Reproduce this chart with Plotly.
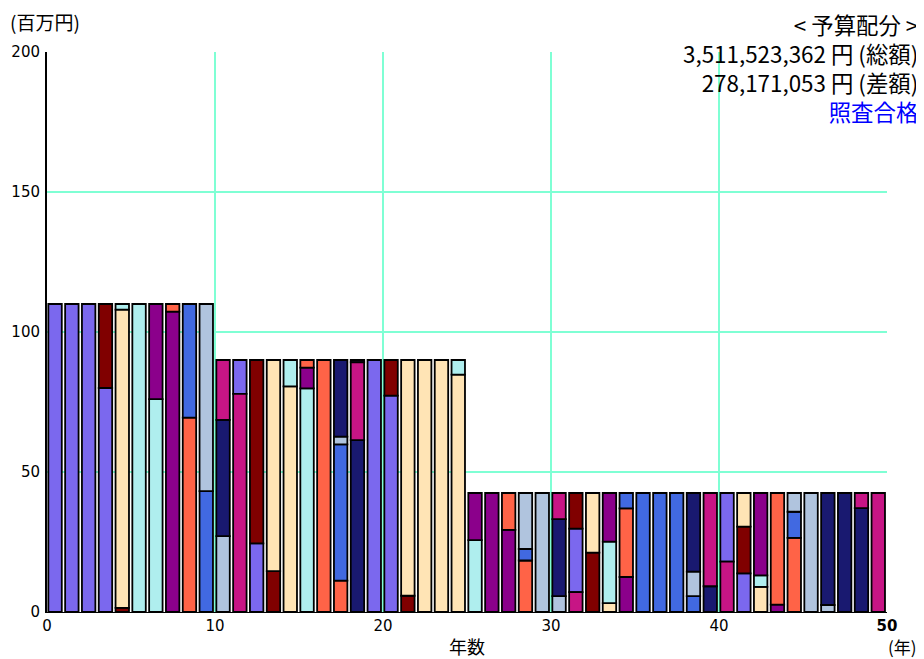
import plotly.graph_objects as go

# ---- data (millions of yen) ----
years = list(range(50))
color_names = ["#7B68EE", "#800000", "#FFE4B5", "#AFEEEE", "#8B008B",
               "#FF6347", "#4169E1", "#B0C4DE", "#191970", "#C71585"]
# first budget item (color index) of each year's bar
bar_first_color = [0, 0, 0, 0, 1, 3, 3, 4, 5, 6,
                   7, 9, 0, 1, 2, 3, 5, 5, 8, 0,
                   0, 1, 2, 2, 2, 3, 4, 4, 5, 7,
                   7, 9, 1, 2, 4, 6, 6, 6, 6, 8,
                   9, 0, 2, 4, 5, 7, 7, 8, 8, 9]
# stacked segment values of each year's bar, bottom to top
bar_segments = [
    [110], [110], [110], [80, 30], [1.5, 106.5, 2],
    [110], [76, 34], [107.3, 2.7], [69.4, 40.6], [43.2, 66.8],
    [27.1, 41.5, 21.4], [77.9, 12.1], [24.5, 65.5], [14.6, 75.4], [80.6, 9.4],
    [79.9, 7.4, 2.7], [90], [11.2, 48.7, 2.7, 27.4], [61.4, 27.8, 0.8], [90],
    [77.3, 12.7], [5.8, 84.2], [90], [90], [84.8, 5.2],
    [25.7, 16.8], [42.5], [29.3, 13.2], [18.4, 4.1, 20.0], [42.5],
    [5.7, 27.5, 9.3], [7.1, 22.7, 12.7], [21.2, 21.3], [3.2, 21.9, 17.4], [12.5, 24.5, 5.5],
    [42.5], [42.5], [42.5], [5.7, 8.7, 28.1], [9.2, 33.3],
    [18.0, 24.5], [13.8, 16.7, 12.0], [9.0, 4.1, 29.4], [2.6, 39.9], [26.5, 9.3, 6.7],
    [42.5], [2.5, 40.0], [42.5], [37.1, 5.4], [42.5],
]
x_tick_vals = [0, 10, 20, 30, 40, 50]
x_tick_text = ["0", "10", "20", "30", "40", "<b>50</b>"]
y_tick_vals = [0, 50, 100, 150, 200]
title_text = "< 予算配分 >"
total_text = "3,511,523,362 円 (総額)"
diff_text = "278,171,053 円 (差額)"
status_text = "照査合格"

# ---- build traces: one trace per colour, with explicit bases ----
per_color = {c: {"x": [], "y": [], "base": []} for c in range(len(color_names))}
for yr, first, segs in zip(years, bar_first_color, bar_segments):
    base = 0.0
    for k, v in enumerate(segs):
        c = (first + k) % len(color_names)
        per_color[c]["x"].append(yr + 0.48)
        per_color[c]["y"].append(v)
        per_color[c]["base"].append(base)
        base += v

fig = go.Figure()
for c, d in per_color.items():
    fig.add_trace(go.Bar(
        x=d["x"], y=d["y"], base=d["base"], width=0.8,
        marker=dict(color=color_names[c], line=dict(color="black", width=1.8)),
        showlegend=False, hoverinfo="skip",
    ))

# page has an 8px body margin: shift the figure up/left by 8px
OFF = 8
cjk = "Noto Sans CJK JP, Noto Sans, sans-serif"
num = "DejaVu Sans, Noto Sans CJK JP, sans-serif"
fig.update_layout(
    width=924 - OFF, height=659 - OFF,
    margin=dict(l=47 - OFF, r=37, t=52 - OFF, b=47, autoexpand=False),
    barmode="overlay",
    plot_bgcolor="white", paper_bgcolor="white",
    font=dict(family=cjk, size=15, color="black"),
    xaxis=dict(range=[0, 50], tickvals=x_tick_vals, ticktext=x_tick_text,
               showgrid=True, gridcolor="#7FFFD4", gridwidth=2,
               showline=True, linecolor="black", linewidth=1,
               zeroline=False, ticks="", automargin=False,
               tickfont=dict(size=15, family=num)),
    yaxis=dict(range=[0, 200], tickvals=y_tick_vals,
               showgrid=True, gridcolor="#7FFFD4", gridwidth=2,
               showline=True, linecolor="black", linewidth=2,
               zeroline=False, ticks="", automargin=False, ticklabelstandoff=2,
               tickfont=dict(size=15, family=num)),
)

info_block = "<br>".join([
    title_text, total_text, diff_text,
    '<span style="color:#0000FF">' + status_text + "</span>",
])
ann = [
    dict(text="(百万円)", x=9, y=22, xanchor="left", font=dict(size=19)),
    dict(text="年数", x=467, y=646, xanchor="center", font=dict(size=18)),
    dict(text="(年)", x=918, y=646, xanchor="right", font=dict(size=17)),
    dict(text=info_block, x=919, y=67, xanchor="right", align="right",
         font=dict(size=22.4)),
]
for a in ann:
    # convert page pixel positions to paper coordinates (plot area 47..887 x 52..612)
    px, py = a.pop("x"), a.pop("y")
    fig.add_annotation(
        x=(px - 47) / 840, y=(612 - py) / 560, xref="paper", yref="paper",
        yanchor="middle", showarrow=False, borderpad=0, **a)

fig.write_html("out.html")
